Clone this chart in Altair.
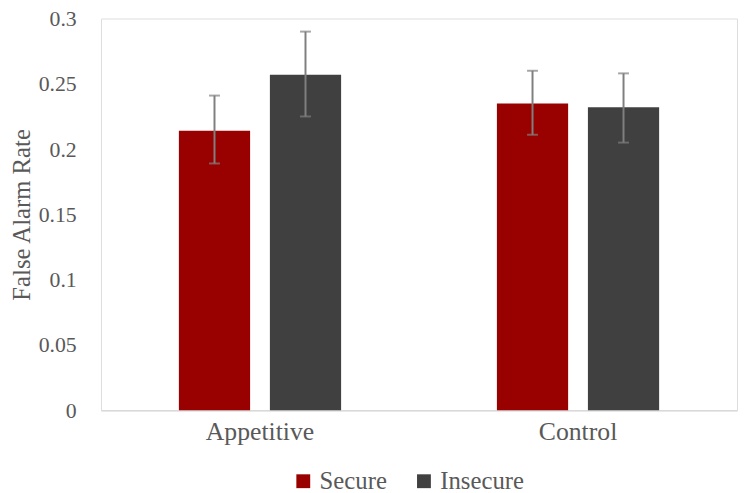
import altair as alt
import pandas as pd

groups = ["Appetitive", "Appetitive", "Control", "Control"]
attachment = ["Secure", "Insecure", "Secure", "Insecure"]
rate = [0.214, 0.257, 0.235, 0.232]
lower = [0.189, 0.225, 0.211, 0.205]
upper = [0.241, 0.290, 0.260, 0.258]
y_ticks = [0, 0.05, 0.1, 0.15, 0.2, 0.25, 0.3]

df = pd.DataFrame({"group": groups, "attachment": attachment,
                   "rate": rate, "lower": lower, "upper": upper})

FONT = "Liberation Serif"
TXT = "#595959"

x_enc = alt.X("group:N", title=None, sort=["Appetitive", "Control"],
              scale=alt.Scale(paddingInner=0, paddingOuter=0),
              axis=alt.Axis(labelAngle=0, ticks=False, domainColor="#d9d9d9",
                            domainWidth=1.3, labelFont=FONT, labelFontSize=26,
                            labelColor=TXT, labelPadding=9))
xo_enc = alt.XOffset("attachment:N", sort=["Secure", "Insecure"],
                     scale=alt.Scale(paddingInner=0.2174, paddingOuter=0.856))

bars = alt.Chart(df).mark_bar().encode(
    x=x_enc,
    xOffset=xo_enc,
    y=alt.Y("rate:Q", title="False Alarm Rate",
            scale=alt.Scale(domain=[0, 0.3], nice=False),
            axis=alt.Axis(values=y_ticks, format=".2~f", grid=False, ticks=False,
                          domain=False, labelFont=FONT, labelFontSize=22,
                          labelColor=TXT, labelPadding=25, titleFont=FONT,
                          titleFontSize=25, titleColor=TXT, titleFontWeight="normal",
                          titlePadding=4)),
    color=alt.Color("attachment:N", sort=["Secure", "Insecure"], title=None,
                    scale=alt.Scale(domain=["Secure", "Insecure"],
                                    range=["#990000", "#404040"]),
                    legend=alt.Legend(orient="none", legendX=192, legendY=455,
                                      direction="horizontal", symbolType="square",
                                      symbolSize=196, symbolStrokeWidth=0,
                                      labelFont=FONT, labelFontSize=25,
                                      labelColor=TXT, labelOffset=4,
                                      columnPadding=24, padding=0)),
)

rules = alt.Chart(df).mark_rule(color="#7f7f7f", strokeWidth=2).encode(
    x=alt.X("group:N", sort=["Appetitive", "Control"]),
    xOffset=xo_enc,
    y="lower:Q",
    y2="upper:Q",
)

cap_lo = alt.Chart(df).mark_tick(color="#7f7f7f", thickness=2, size=11).encode(
    x=alt.X("group:N", sort=["Appetitive", "Control"]),
    xOffset=xo_enc,
    y="lower:Q",
)
cap_hi = alt.Chart(df).mark_tick(color="#7f7f7f", thickness=2, size=11).encode(
    x=alt.X("group:N", sort=["Appetitive", "Control"]),
    xOffset=xo_enc,
    y="upper:Q",
)

chart = alt.layer(bars, rules, cap_lo, cap_hi).properties(
    width=643, height=396,
    autosize=alt.AutoSizeParams(type="none"),
    padding={"left": 94, "top": 8, "right": 3, "bottom": 81},
).configure_view(stroke=None).configure(background="white")

chart.save("out.html", embed_options={"renderer": "svg", "actions": False})
